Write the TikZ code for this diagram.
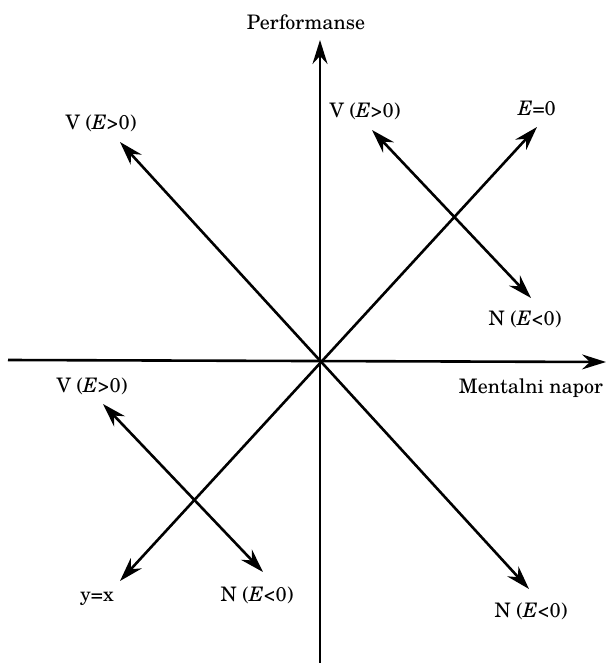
\documentclass[tikz,border=0pt]{standalone}
\usepackage{fontspec}
\setmainfont{TeX Gyre Schola}
\usetikzlibrary{arrows.meta}
\begin{document}
\begin{tikzpicture}[x=1pt,y=-1pt,line width=2.6pt,
  tip/.tip={Stealth[length=24pt,width=15pt,inset=8pt]},
  arr/.style={-tip},
  darr/.style={tip-tip},
  lbl/.style={inner sep=0pt,font=\fontsize{20}{24}\selectfont}]
\useasboundingbox (0,0) rectangle (608,663);
% axes
\coordinate (O) at (320,361);
\coordinate (ytop) at (320,40);
\coordinate (ybot) at (320,663);
\coordinate (xl) at (8,360);
\coordinate (xr) at (606,362);
\draw[arr] (ybot) -- (ytop);
\draw[arr] (xl) -- (xr);
\node[lbl] (perf) at (306,22) {Performanse};
\node[lbl] (ment) at (531,388) {Mentalni napor};
% main diagonals
\coordinate (nw) at (120,142);
\coordinate (se) at (529,589);
\coordinate (sw) at (120,581);
\coordinate (ne) at (537,127);
\draw[darr] (nw) -- (se);
\draw[darr] (sw) -- (ne);
\node[lbl] (lnw) at (101,123) {V (\textit{E}>0)};
\node[lbl] (lse) at (531,611) {N (\textit{E}<0)};
\node[lbl] (lsw) at (97,599) {y=x};
\node[lbl] (lne) at (537,108) {\textit{E}=0};
% top-right small arrow
\coordinate (a1) at (372,130);
\coordinate (a2) at (531,298);
\draw[darr] (a1) -- (a2);
\node[lbl] (la1) at (365,111) {V (\textit{E}>0)};
\node[lbl] (la2) at (525,319) {N (\textit{E}<0)};
% bottom-left small arrow
\coordinate (b1) at (103,404);
\coordinate (b2) at (263,572);
\draw[darr] (b1) -- (b2);
\node[lbl] (lb1) at (92,386) {V (\textit{E}>0)};
\node[lbl] (lb2) at (257,595) {N (\textit{E}<0)};
\end{tikzpicture}
\end{document}
